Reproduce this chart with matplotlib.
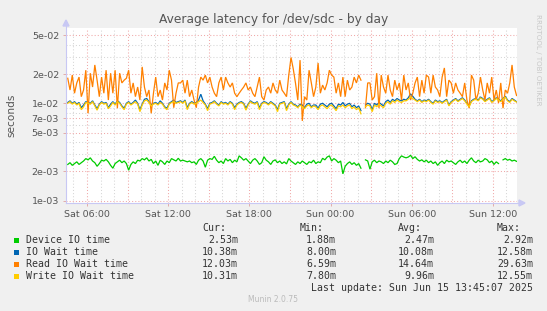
import numpy as np
import matplotlib
matplotlib.use("Agg")
import matplotlib.pyplot as plt
from matplotlib.lines import Line2D
from matplotlib.patches import Polygon, Rectangle

# ---------------- data (milliseconds, 10-minute samples, Sat 04:35 .. Sun 13:45) ----------------
T0_HOURS = 4.58
STEP_HOURS = 1.0 / 6.0

device_io_ms = [
    2.35, 2.45, 2.30, 2.40, 2.50, 2.35, 2.45, 2.55, 2.70, 2.62,
    2.75, 2.55, 2.45, 2.25, 2.40, 2.60, 2.55, 2.65, 2.50, 2.30,
    2.15, 2.40, 2.50, 2.60, 2.45, 2.55, 2.40, 2.05, 2.35, 2.50,
    2.40, 2.60, 2.55, 2.70, 2.62, 2.75, 2.55, 2.65, 2.40, 2.55,
    2.30, 2.60, 2.50, 2.35, 2.55, 2.45, 2.70, 2.62, 2.55, 2.72,
    2.55, 2.60, 2.55, 2.50, 2.55, 2.45, 2.50, 2.35, 2.60, 2.70,
    2.55, 2.20, 2.60, 2.70, 2.65, 2.85, 2.60, 2.45, 2.55, 2.40,
    2.70, 2.55, 2.65, 2.45, 2.60, 2.50, 2.88, 2.75, 2.60, 2.70,
    2.55, 2.40, 2.60, 2.70, 2.55, 2.35, 2.45, 2.82, 2.60, 2.50,
    2.35, 2.55, 2.62, 2.45, 2.55, 2.40, 2.50, 2.38, 2.70, 2.55,
    2.45, 2.35, 2.50, 2.40, 2.55, 2.45, 2.35, 2.50, 2.45, 2.60,
    2.40, 2.50, 2.45, 2.72, 2.62, 2.80, 2.88, 2.55, 2.70, 2.60,
    2.45, 2.55, 1.88, 2.25, 2.40, 2.50, 2.35, 2.45, 2.30, 2.40,
    2.15, np.nan, 2.62, 2.55, 2.10, 2.50, 2.60, 2.45, 2.55, 2.50,
    2.40, 2.55, 2.45, 2.60, 2.50, 2.35, 2.40, 2.70, 2.88, 2.80,
    2.75, 2.80, 2.92, 2.70, 2.82, 2.65, 2.55, 2.62, 2.50, 2.60,
    2.45, 2.55, 2.40, 2.50, 2.30, 2.45, 2.55, 2.40, 2.60, 2.50,
    2.55, 2.45, 2.35, 2.50, 2.60, 2.45, 2.55, 2.40, 2.60, 2.75,
    2.55, 2.45, 2.60, 2.50, 2.55, 2.70, 2.62, 2.45, 2.55, 2.35,
    2.50, 2.40, np.nan, 2.62, 2.70, 2.60, 2.65, 2.55, 2.60, 2.53,
]

io_wait_ms = [
    10.2, 10.6, 10.0, 10.4, 9.8, 10.2, 9.0, 9.6, 10.4, 10.2,
    10.0, 10.6, 9.6, 8.8, 9.8, 10.4, 10.0, 10.2, 9.0, 9.8,
    10.4, 9.8, 10.6, 10.2, 9.4, 8.9, 10.0, 10.4, 9.8, 10.2,
    10.8, 10.0, 8.6, 9.8, 11.0, 11.2, 10.4, 9.6, 10.0, 10.2,
    9.8, 10.6, 10.0, 9.2, 8.9, 10.0, 10.4, 10.8, 10.2, 10.4,
    10.6, 10.2, 10.8, 9.0, 10.0, 10.4, 10.0, 10.2, 10.8, 12.4,
    10.6, 9.8, 8.8, 10.0, 10.2, 10.6, 10.0, 9.6, 10.4, 10.0,
    10.2, 9.8, 10.4, 10.0, 9.0, 9.8, 10.2, 10.4, 10.0, 8.9,
    9.8, 10.6, 10.2, 10.0, 10.4, 9.0, 10.0, 10.4, 10.2, 9.8,
    10.4, 10.0, 9.6, 8.6, 10.0, 10.2, 10.4, 8.8, 9.8, 10.4,
    9.8, 9.6, 9.2, 9.8, 9.6, 9.0, 9.8, 10.0, 9.2, 9.6,
    9.6, 8.9, 9.8, 10.0, 9.6, 9.2, 9.8, 10.0, 9.4, 8.8,
    9.8, 9.6, 10.2, 9.4, 9.8, 10.0, 9.2, 9.6, 9.0, 9.4,
    8.4, np.nan, 9.6, 10.0, 9.8, 8.6, 10.0, 9.6, 10.2, 9.8,
    9.4, 10.4, 10.8, 10.2, 11.0, 10.6, 11.2, 10.8, 10.6, 11.0,
    10.8, 11.4, 12.5, 11.8, 11.0, 10.6, 11.0, 10.4, 10.8, 10.6,
    11.0, 10.4, 10.0, 10.8, 10.4, 10.6, 10.2, 10.6, 11.0, 9.6,
    10.4, 10.8, 11.2, 10.6, 11.0, 11.4, 10.8, 10.0, 9.4, 10.6,
    11.0, 11.2, 10.8, 11.6, 11.2, 10.6, 11.0, 11.4, 10.4, 10.8,
    11.4, 11.0, 10.6, 11.2, 11.8, 10.8, 10.4, 11.2, 10.8, 10.38,
]

read_wait_ms = [
    18.1, 13.7, 19.5, 12.7, 16.2, 18.6, 11.7, 13.7, 21.9, 7.9,
    20.4, 14.7, 24.8, 17.3, 11.7, 18.6, 12.7, 21.9, 10.8, 20.4,
    12.7, 21.9, 8.9, 20.4, 16.2, 17.3, 18.1, 21.9, 12.7, 16.2,
    11.7, 14.7, 10.8, 23.7, 14.7, 11.7, 13.7, 7.9, 12.7, 18.6,
    11.7, 13.7, 10.8, 16.2, 13.7, 21.9, 17.3, 9.0, 12.7, 16.2,
    16.2, 17.3, 12.7, 17.3, 11.7, 13.7, 10.8, 9.0, 14.7, 18.6,
    17.3, 19.5, 16.2, 18.6, 14.7, 12.7, 11.7, 16.2, 18.6, 13.7,
    18.6, 16.2, 14.7, 16.2, 12.7, 11.7, 12.7, 13.7, 14.7, 16.2,
    13.7, 14.7, 12.7, 11.7, 14.7, 18.6, 11.7, 10.8, 13.7, 14.7,
    12.7, 16.2, 13.7, 12.7, 17.3, 13.7, 12.7, 11.7, 19.5, 29.63,
    22.5, 16.0, 10.8, 27.8, 6.59, 11.7, 10.8, 21.9, 16.2, 11.7,
    14.7, 26.0, 12.7, 15.4, 13.7, 16.2, 21.9, 19.5, 18.6, 12.7,
    16.2, 11.7, 18.6, 11.7, 17.3, 13.7, 14.7, 18.6, 16.2, 19.5,
    17.3, np.nan, 9.0, 16.2, 16.2, 10.8, 11.7, 20.4, 8.9, 19.5,
    14.7, 12.7, 19.5, 13.7, 11.7, 17.3, 13.7, 16.2, 10.8, 19.5,
    13.7, 16.2, 10.8, 12.7, 16.2, 18.6, 11.7, 17.3, 12.7, 19.5,
    18.6, 12.7, 19.5, 14.7, 13.7, 11.7, 18.6, 23.1, 11.7, 17.3,
    16.2, 12.7, 16.2, 13.7, 12.7, 11.7, 16.2, 10.8, 8.9, 19.5,
    17.3, 10.8, 12.7, 18.6, 13.7, 10.8, 16.2, 12.7, 18.6, 10.8,
    13.7, 10.1, 16.2, 8.9, 13.7, 12.7, 16.2, 24.8, 14.7, 12.03,
]

write_wait_ms = [
    10.0, 10.4, 9.8, 10.2, 9.6, 10.0, 8.6, 9.2, 10.2, 10.0,
    9.8, 10.4, 9.4, 8.5, 9.6, 10.2, 9.8, 10.0, 8.8, 9.4,
    10.2, 9.6, 10.4, 10.0, 9.2, 8.6, 9.8, 10.2, 9.6, 10.0,
    10.4, 9.8, 8.2, 9.6, 10.6, 10.8, 10.2, 9.4, 9.8, 10.0,
    9.6, 10.2, 9.8, 9.0, 8.6, 9.8, 10.2, 10.4, 10.0, 10.2,
    10.4, 10.0, 10.6, 8.6, 9.8, 10.2, 9.8, 10.0, 10.4, 10.8,
    10.2, 9.6, 8.4, 9.8, 10.0, 10.4, 9.8, 9.4, 10.2, 9.8,
    10.0, 9.6, 10.2, 9.8, 8.6, 9.6, 10.0, 10.2, 9.8, 8.5,
    9.6, 10.4, 10.0, 9.8, 10.2, 8.6, 9.8, 10.2, 10.0, 9.6,
    10.2, 9.8, 9.4, 8.2, 9.8, 10.0, 10.2, 8.4, 9.6, 10.2,
    9.6, 9.4, 9.0, 9.6, 9.2, 8.8, 9.4, 9.6, 9.0, 9.4,
    9.2, 8.6, 9.4, 9.6, 9.2, 8.8, 9.4, 9.6, 9.0, 8.4,
    9.4, 9.2, 9.6, 9.0, 9.4, 9.6, 8.8, 9.2, 8.6, 9.0,
    7.8, np.nan, 9.2, 9.6, 9.4, 8.2, 9.6, 9.2, 9.8, 9.4,
    9.0, 10.0, 10.4, 9.8, 10.6, 10.2, 10.8, 10.4, 10.2, 10.6,
    10.6, 11.0, 11.6, 11.2, 10.8, 10.4, 10.8, 10.2, 10.6, 10.4,
    10.8, 10.2, 9.8, 10.6, 10.2, 10.4, 10.0, 10.4, 10.8, 9.4,
    10.2, 10.6, 11.0, 10.4, 10.8, 11.2, 10.6, 9.8, 9.2, 10.4,
    10.8, 11.0, 10.6, 11.4, 11.0, 10.4, 10.8, 11.2, 10.2, 10.6,
    11.2, 10.8, 10.4, 11.0, 11.6, 10.6, 10.2, 11.0, 10.6, 10.31,
]

series_names = ["Device IO time", "IO Wait time", "Read IO Wait time", "Write IO Wait time"]
series_colors = ["#00CC00", "#0066B3", "#FF8000", "#FFCC00"]
series_values = [device_io_ms, io_wait_ms, read_wait_ms, write_wait_ms]

cur_vals = ["2.53m", "10.38m", "12.03m", "10.31m"]
min_vals = ["1.88m", "8.00m", "6.59m", "7.80m"]
avg_vals = ["2.47m", "10.08m", "14.64m", "9.96m"]
max_vals = ["2.92m", "12.58m", "29.63m", "12.55m"]

x_tick_hours = [6, 12, 18, 24, 30, 36]
x_tick_labels = ["Sat 06:00", "Sat 12:00", "Sat 18:00", "Sun 00:00", "Sun 06:00", "Sun 12:00"]
y_major = [1e-3, 2e-3, 5e-3, 7e-3, 1e-2, 2e-2, 5e-2]
y_major_labels = ["1e-03", "2e-03", "5e-03", "7e-03", "1e-02", "2e-02", "5e-02"]
y_minor = [3e-3, 4e-3, 6e-3, 8e-3, 9e-3, 3e-2, 4e-2]

title = "Average latency for /dev/sdc - by day"
last_update = "Last update: Sun Jun 15 13:45:07 2025"
footer = "Munin 2.0.75"
side_text = "RRDTOOL / TOBI OETIKER"

# ---------------- figure ----------------
W, H = 547, 311
BG = "#F0F0F0"
fig = plt.figure(figsize=(W / 100, H / 100), dpi=100, facecolor=BG)


def fx(px):
    return px / W


def fy(py):
    return 1 - py / H


L, R, T, B = 66, 517, 28, 203
ax = fig.add_axes([fx(L), fy(B), fx(R - L), (B - T) / H])
ax.set_facecolor("white")
ax.set_yscale("log")
ax.set_xlim(4.45, 37.78)
ax.set_ylim(0.000943, 0.0595)

for s in ax.spines.values():
    s.set_visible(False)

major_grid = "#F0A8A8"
minor_grid = "#D6D6D6"
dash = (0, (1, 2))
# vertical grid: hourly minor, 3-hourly major
for h in range(5, 38):
    col = major_grid if h % 3 == 0 else minor_grid
    ax.axvline(h, color=col, lw=0.75, ls=dash, zorder=1)
for v in y_minor:
    ax.axhline(v, color=minor_grid, lw=0.75, ls=dash, zorder=1)
for v in y_major:
    ax.axhline(v, color=major_grid, lw=0.75, ls=dash, zorder=1)

ax.set_xticks(x_tick_hours)
ax.set_xticklabels(x_tick_labels)
ax.set_yticks(y_major)
ax.set_yticklabels(y_major_labels)
ax.set_yticks([], minor=True)
ax.tick_params(axis="both", which="both", length=2, width=0.6, color="#E0A0A0",
               labelcolor="#555555", labelsize=6.8)
ax.tick_params(axis="x", pad=3)
ax.tick_params(axis="y", pad=3)

for i, (vals, col) in enumerate(zip(series_values, series_colors)):
    v = np.array(vals, dtype=float) * 1e-3
    t = T0_HOURS + np.arange(len(v)) * STEP_HOURS
    ax.plot(t, v, color=col, lw=0.9, zorder=3 + i, solid_joinstyle="miter")

# axis lines with arrows
axis_col = "#C8C8F4"
fig.add_artist(Line2D([fx(L), fx(L)], [fy(B), fy(23)], color=axis_col, lw=0.8))
fig.add_artist(Line2D([fx(L), fx(521)], [fy(B), fy(B)], color=axis_col, lw=0.8))
fig.add_artist(Polygon([[fx(L - 3), fy(26)], [fx(L + 3), fy(26)], [fx(L), fy(20)]],
                       closed=True, color=axis_col, transform=fig.transFigure))
fig.add_artist(Polygon([[fx(519), fy(B - 3)], [fx(519), fy(B + 3)], [fx(525), fy(B)]],
                       closed=True, color=axis_col, transform=fig.transFigure))

# texts
fig.text(fx(273.5), fy(20), title, ha="center", va="center", fontsize=8.8, color="#555555")
fig.text(fx(11), fy(115), "seconds", rotation=90, ha="center", va="center",
         fontsize=7.6, color="#555555")
fig.text(fx(538), fy(14), side_text, rotation=270, ha="center", va="top",
         fontsize=5.1, color="#C8C8C8")

mono = "DejaVu Sans Mono"
lfs = 7.1
tcol = "#333333"
fig.text(fx(226), fy(228), "Cur:", ha="right", va="center", family=mono, fontsize=lfs, color=tcol)
fig.text(fx(324), fy(228), "Min:", ha="right", va="center", family=mono, fontsize=lfs, color=tcol)
fig.text(fx(422), fy(228), "Avg:", ha="right", va="center", family=mono, fontsize=lfs, color=tcol)
fig.text(fx(521), fy(228), "Max:", ha="right", va="center", family=mono, fontsize=lfs, color=tcol)
for i in range(4):
    yy = 240 + 12 * i
    fig.add_artist(Rectangle((fx(14), fy(yy + 2.5)), 5 / W, 5 / H, transform=fig.transFigure,
                             facecolor=series_colors[i], edgecolor="none"))
    fig.text(fx(26), fy(yy), series_names[i], ha="left", va="center", family=mono,
             fontsize=lfs, color=tcol)
    fig.text(fx(238), fy(yy), cur_vals[i], ha="right", va="center", family=mono, fontsize=lfs, color=tcol)
    fig.text(fx(336), fy(yy), min_vals[i], ha="right", va="center", family=mono, fontsize=lfs, color=tcol)
    fig.text(fx(434), fy(yy), avg_vals[i], ha="right", va="center", family=mono, fontsize=lfs, color=tcol)
    fig.text(fx(533), fy(yy), max_vals[i], ha="right", va="center", family=mono, fontsize=lfs, color=tcol)
fig.text(fx(533), fy(288), last_update, ha="right", va="center", family=mono, fontsize=lfs, color=tcol)
fig.text(fx(273.5), fy(300), footer, ha="center", va="center", fontsize=5.5, color="#BBBBBB")

fig.savefig("out.png", dpi=100, facecolor=BG)
